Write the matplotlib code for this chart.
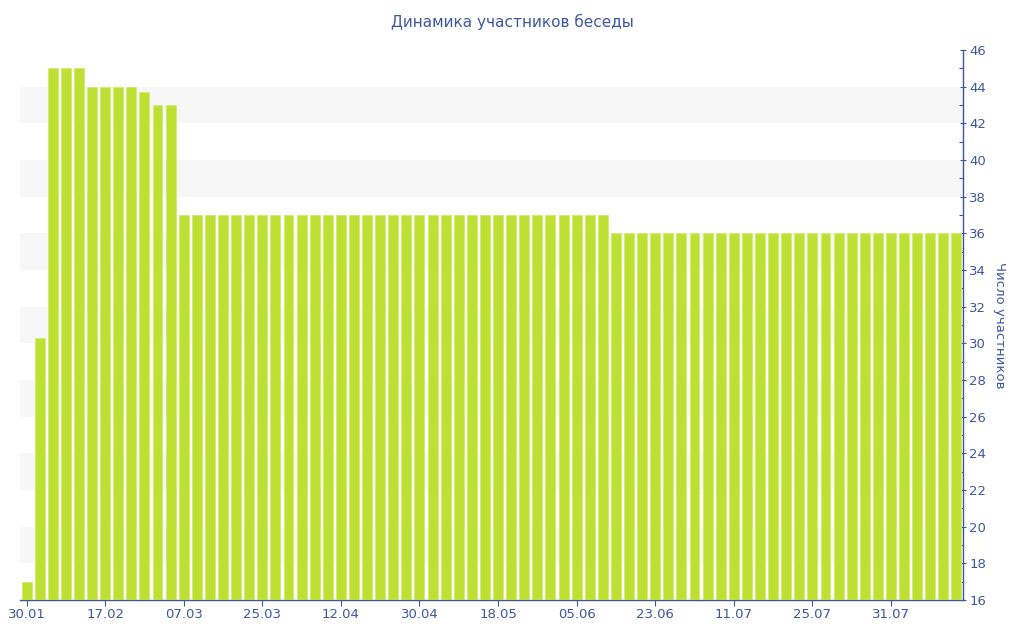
import matplotlib
matplotlib.use("Agg")
import matplotlib.pyplot as plt
from matplotlib.ticker import MultipleLocator

# members per snapshot (72 snapshots)
members = [17, 30.3, 45, 45, 45, 44, 44, 44, 44, 43.7, 43, 43] + [37] * 33 + [36] * 27
tick_labels = ["30.01", "17.02", "07.03", "25.03", "12.04", "30.04",
               "18.05", "05.06", "23.06", "11.07", "25.07", "31.07"]
tick_every = 6

BAR = "#bde032"
TXT = "#3d56a0"


def main():
    fig = plt.figure(figsize=(10.24, 6.4), dpi=100)
    ax = fig.add_axes([20 / 1024, 40 / 640, 943 / 1024, 550 / 640])

    x = list(range(len(members)))
    ax.bar(x, [m - 16 for m in members], bottom=16, width=0.76, color=BAR,
           edgecolor="#d2eb6e", linewidth=0.6, zorder=3)

    # alternating bands
    for lo in range(18, 46, 4):
        ax.axhspan(lo, lo + 2, color="#f7f7f7", zorder=0, lw=0)

    ax.set_xlim(-0.5, len(members) - 0.5)
    ax.set_ylim(16, 46)
    ax.set_xticks(x[::tick_every])
    ax.set_xticklabels(tick_labels)

    ax.yaxis.tick_right()
    ax.yaxis.set_label_position("right")
    ax.yaxis.set_major_locator(MultipleLocator(2))
    ax.yaxis.set_minor_locator(MultipleLocator(1))
    ax.set_ylabel("Число участников", rotation=270, labelpad=14, color=TXT, fontsize=9.5)

    for s in ["top", "left"]:
        ax.spines[s].set_visible(False)
    for s in ["right", "bottom"]:
        ax.spines[s].set_color(TXT)
        ax.spines[s].set_linewidth(1.0)

    ax.tick_params(axis="x", colors=TXT, labelsize=9.5, length=4, width=0.8, pad=2)
    ax.tick_params(axis="y", which="major", colors=TXT, labelsize=9.5, length=5,
                   width=0.8, direction="inout", pad=2)
    ax.tick_params(axis="y", which="minor", colors=TXT, length=3, width=0.8, direction="in")

    fig.text(0.5, 1 - 22 / 640, "Динамика участников беседы", ha="center", va="center",
             color=TXT, fontsize=11)

    fig.savefig("out.png", dpi=100)


if __name__ == "__main__":
    main()
